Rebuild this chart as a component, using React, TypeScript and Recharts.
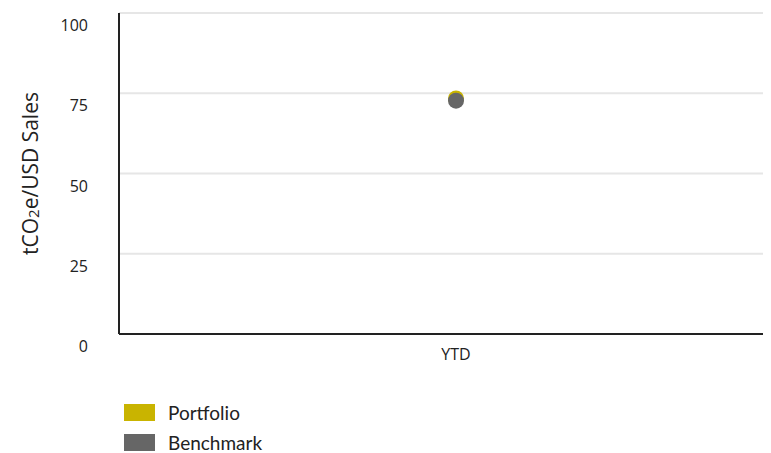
import React from 'react';
import { ComposedChart, Line, XAxis, YAxis, CartesianGrid, Label } from 'recharts';

const periods = ['YTD'];
const portfolio = [73.4];
const benchmark = [72.7];
const yTicks = [0, 25, 50, 75, 100];

const series = [
  { key: 'portfolio', name: 'Portfolio', color: '#c9b400', values: portfolio },
  { key: 'benchmark', name: 'Benchmark', color: '#666666', values: benchmark },
];

const data = periods.map((p, i) => ({
  period: p,
  portfolio: portfolio[i],
  benchmark: benchmark[i],
}));

const tickFont = "'Open Sans', sans-serif";

const YTick = (props: any) => {
  const { x, y, payload } = props;
  return (
    <text x={x} y={y} dy={18} textAnchor="end" fill="#222" style={{ fontSize: 16, fontFamily: tickFont }}>
      {payload.value}
    </text>
  );
};

const YTitle = (props: any) => {
  const { viewBox } = props;
  const cx = viewBox.x + 30;
  const cy = viewBox.y + viewBox.height / 2;
  return (
    <text
      x={cx}
      y={cy}
      transform={`rotate(-90, ${cx}, ${cy})`}
      textAnchor="middle"
      dominantBaseline="central"
      fill="#222"
      style={{ fontSize: 21, fontFamily: tickFont }}
    >
      tCO<tspan style={{ fontSize: 15 }} dy={3}>2</tspan>
      <tspan dy={-3}>e/USD Sales</tspan>
    </text>
  );
};

export default function App() {
  return (
    <div style={{ marginLeft: -8, marginTop: -8, width: 771, height: 453, overflow: 'hidden', background: '#fff' }}>
      <ComposedChart width={771} height={380} data={data} margin={{ top: 13, right: 0, bottom: 0, left: 0 }}>
        <CartesianGrid vertical={false} stroke="#e6e6e6" strokeWidth={2} />
        <XAxis
          dataKey="period"
          padding={{ left: 22, right: 0 }}
          height={46}
          tickLine={false}
          tickMargin={9}
          axisLine={{ stroke: '#222', strokeWidth: 2 }}
          tick={{ fontSize: 16, fontFamily: tickFont, fill: '#222' }}
        />
        <YAxis
          domain={[0, 100]}
          ticks={yTicks}
          width={119}
          tickLine={false}
          tickMargin={25}
          axisLine={{ stroke: '#222', strokeWidth: 2 }}
          tick={<YTick />}
        >
          <Label content={<YTitle />} />
        </YAxis>
        {series.map((s) => (
          <Line
            key={s.key}
            dataKey={s.key}
            name={s.name}
            stroke={s.color}
            strokeWidth={0}
            dot={{ r: 8, fill: s.color, stroke: 'none' }}
            activeDot={false}
            isAnimationActive={false}
          />
        ))}
      </ComposedChart>
      <div style={{ paddingLeft: 124, paddingTop: 17, fontFamily: "'Lato', sans-serif", fontSize: 19, lineHeight: 1, color: '#222' }}>
        {series.map((s) => (
          <div key={s.key} style={{ display: 'flex', alignItems: 'center', height: 30 }}>
            <span style={{ display: 'inline-block', width: 31, height: 17, background: s.color, marginRight: 13 }} />
            {s.name}
          </div>
        ))}
      </div>
    </div>
  );
}
